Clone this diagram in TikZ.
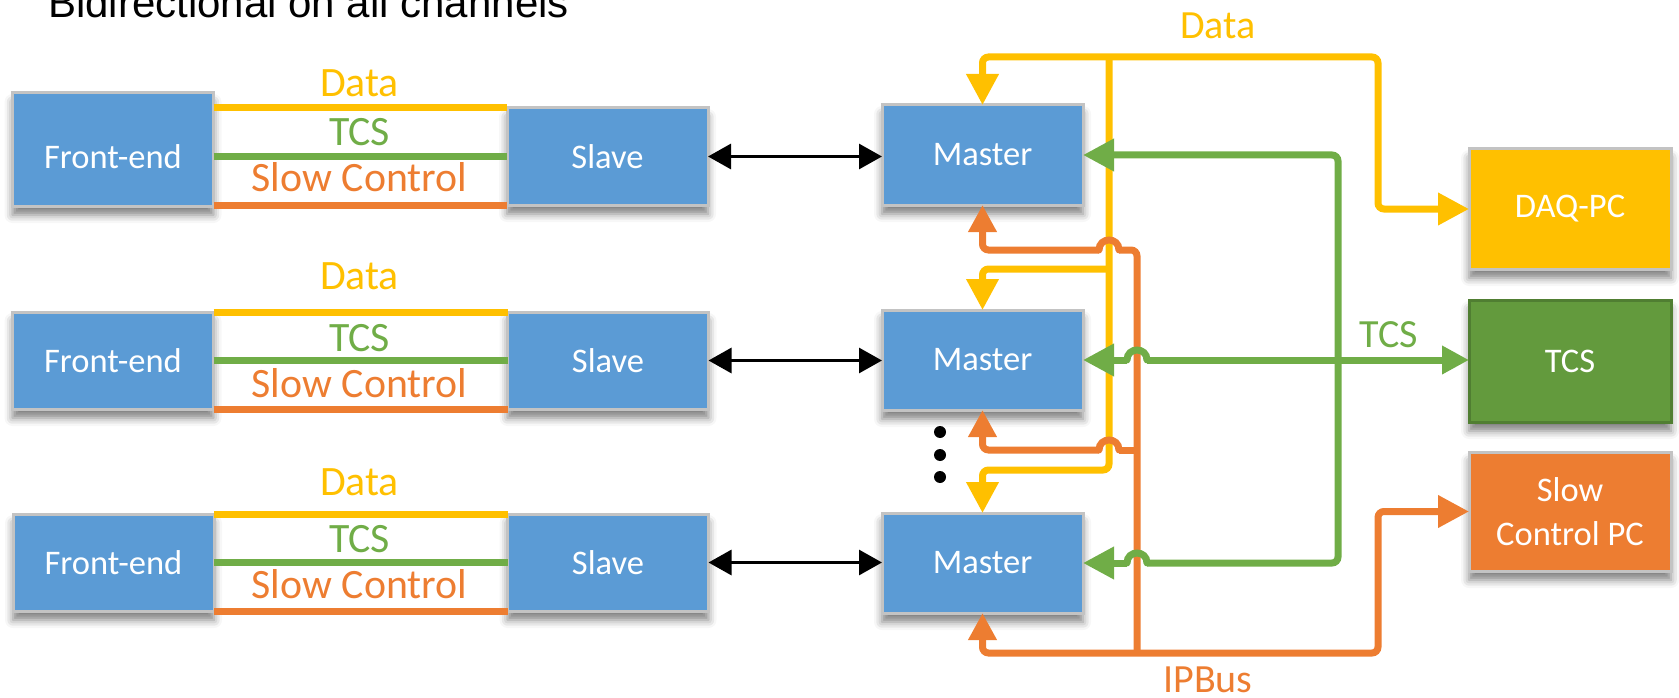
\documentclass[tikz,border=0pt]{standalone}
\usepackage{fontspec}
\setmainfont{Carlito}
\newfontfamily\titlefont{Liberation Sans}
\usetikzlibrary{arrows.meta,shadows.blur}
\definecolor{boxblue}{HTML}{5B9BD5}
\definecolor{boxgray}{HTML}{C3C3C3}
\definecolor{cyel}{HTML}{FFC000}
\definecolor{cgrn}{HTML}{70AD47}
\definecolor{corg}{HTML}{ED7D31}
\definecolor{tcsfill}{RGB}{99,154,61}
\definecolor{tcsdraw}{RGB}{80,126,50}
\begin{document}
\begin{tikzpicture}[x=1pt,y=-1pt,
  BT/.tip={Triangle[length=31pt,width=31pt]},
  ST/.tip={Triangle[length=27pt,width=27pt]},
  KT/.tip={Triangle[length=23pt,width=25pt]},
  box/.style={draw=boxgray, line width=3pt, fill=boxblue, text=white, inner sep=0pt, outer sep=0pt,
    minimum width=201pt, font=\fontsize{34.5}{44}\selectfont,
    blur shadow={shadow xshift=0pt, shadow yshift=-9pt, shadow blur radius=8pt, shadow opacity=50}},
  lab/.style={anchor=base, inner sep=0pt, font=\fontsize{41.8}{46}\selectfont},
  rlab/.style={anchor=base, inner sep=0pt, font=\fontsize{40}{45}\selectfont},
  wire/.style={line width=7pt},
  kwire/.style={line width=3pt, draw=black, KT-KT},
  hop/.style={line width=7pt, line cap=round}
]
\useasboundingbox (0,0) rectangle (1679,698);

% title
\node[anchor=base west, inner sep=0pt, font=\titlefont\fontsize{42}{48}\selectfont] (title) at (48,18) {Bidirectional on all channels};

% left column boxes
\node[box, minimum height=113pt, text height=38pt, text depth=0pt] (fe1) at (113,149.5) {Front-end};
\node[box, minimum height=97pt] (fe2) at (113,360.5) {Front-end};
\node[box, minimum height=97pt] (fe3) at (113.5,562.5) {Front-end};
\node[box, minimum height=97pt] (sl1) at (607.5,156.5) {Slave};
\node[box, minimum height=97pt] (sl2) at (608,360.5) {Slave};
\node[box, minimum height=97pt] (sl3) at (608,562.5) {Slave};
\node[box, minimum height=100pt] (ma1) at (982.5,155) {Master};
\node[box, minimum height=100pt] (ma2) at (982.5,360) {Master};
\node[box, minimum height=100pt] (ma3) at (982.5,563) {Master};

% right boxes
\node[box, fill=cyel, minimum width=202pt, minimum height=120pt] (daq) at (1570,209) {DAQ-PC};
\node[box, fill=tcsfill, draw=tcsdraw, minimum width=202pt, minimum height=122pt] (tcs) at (1570,361) {TCS};
\node[box, fill=corg, minimum width=202pt, minimum height=119pt, align=center] (scpc) at (1570,511.5) {Slow\\Control PC};

% front-end to slave channels
\foreach \r in {1,2,3}{
  \draw[wire,cyel] (fe\r.east |- sl\r.north) -- (sl\r.north west);
  \draw[wire,cgrn] (fe\r.east |- sl\r.center) -- (sl\r.west);
  \draw[wire,corg] (fe\r.east |- sl\r.south) -- (sl\r.south west);
  \draw[kwire] (sl\r.east) -- (sl\r.east -| ma\r.west);
}
\node[lab, text=cyel] (d1) at (359.5,97) {Data};
\node[lab, text=cgrn] (t1) at (359.5,146) {TCS};
\node[lab, text=corg] (s1) at (359.5,191) {Slow Control};
\node[lab, text=cyel] (d2) at (359.5,289) {Data};
\node[lab, text=cgrn] (t2) at (359.5,351) {TCS};
\node[lab, text=corg] (s2) at (359.5,397) {Slow Control};
\node[lab, text=cyel] (d3) at (359.5,495) {Data};
\node[lab, text=cgrn] (t3) at (359.5,552) {TCS};
\node[lab, text=corg] (s3) at (359.5,598) {Slow Control};

% dots
\fill (940,432) circle[radius=6pt];
\fill (940,455) circle[radius=6pt];
\fill (940,477) circle[radius=6pt];

% junction coordinates
\coordinate (ytop) at (1109,57);
\coordinate (ycor) at (1378,57);
\coordinate (y2) at (1109,269);
\coordinate (y3) at (1109,470);
\coordinate (o1) at (1137,250);
\coordinate (o2) at (1137,450);
\coordinate (o3) at (1137,653);
\coordinate (ocor) at (1378,653);
\coordinate (g1) at (1338,155);
\coordinate (g3) at (1338,563);

% Data (yellow)
\draw[wire,cyel,rounded corners=6pt,BT-BT] (ma1.north) -- (ma1.north |- ycor) -- (ycor) -- (ycor |- daq.west) -- (daq.west);
\draw[wire,cyel,rounded corners=6pt,-BT] (ytop) -- (y3) -- (ma3.north |- y3) -- (ma3.north);
\draw[wire,cyel,rounded corners=6pt,-BT] (y2) -- (ma2.north |- y2) -- (ma2.north);

% IPBus (orange)
\draw[wire,corg,rounded corners=6pt,ST-] (ma1.south) -- (ma1.south |- o1) -- (1099,250);
\draw[hop,corg] (1099,250) .. controls (1099,236.7) and (1119,236.7) .. (1119,250);
\draw[wire,corg,rounded corners=6pt] (1119,250) -- (o1) -- (o3);
\draw[wire,corg,rounded corners=6pt,ST-] (ma2.south) -- (ma2.south |- o2) -- (1099,450);
\draw[hop,corg] (1099,450) .. controls (1099,436.7) and (1119,436.7) .. (1119,450);
\draw[wire,corg] (1119,450) -- (o2);
\draw[wire,corg,rounded corners=6pt,ST-BT] (ma3.south) -- (ma3.south |- o3) -- (ocor) -- (ocor |- scpc.west) -- (scpc.west);

% TCS (green)
\draw[wire,cgrn,rounded corners=6pt,BT-] (ma1.east) -- (g1) -- (g3) -- (1147,563);
\draw[hop,cgrn] (1147,563) .. controls (1147,549.7) and (1127,549.7) .. (1127,563);
\draw[wire,cgrn,-BT] (1127,563) -- (ma3.east);
\draw[wire,cgrn,BT-] (ma2.east) -- (1127,360);
\draw[hop,cgrn] (1127,360) .. controls (1127,346.7) and (1147,346.7) .. (1147,360);
\draw[wire,cgrn,-ST] (1147,360) -- (tcs.west |- ma2.east);

% right labels
\node[rlab, text=cyel] (dlab) at (1218,39) {Data};
\node[rlab, text=cgrn] (tlab) at (1389,347) {TCS};
\node[rlab, text=corg] (iplab) at (1208,692) {IPBus};
\end{tikzpicture}
\end{document}
